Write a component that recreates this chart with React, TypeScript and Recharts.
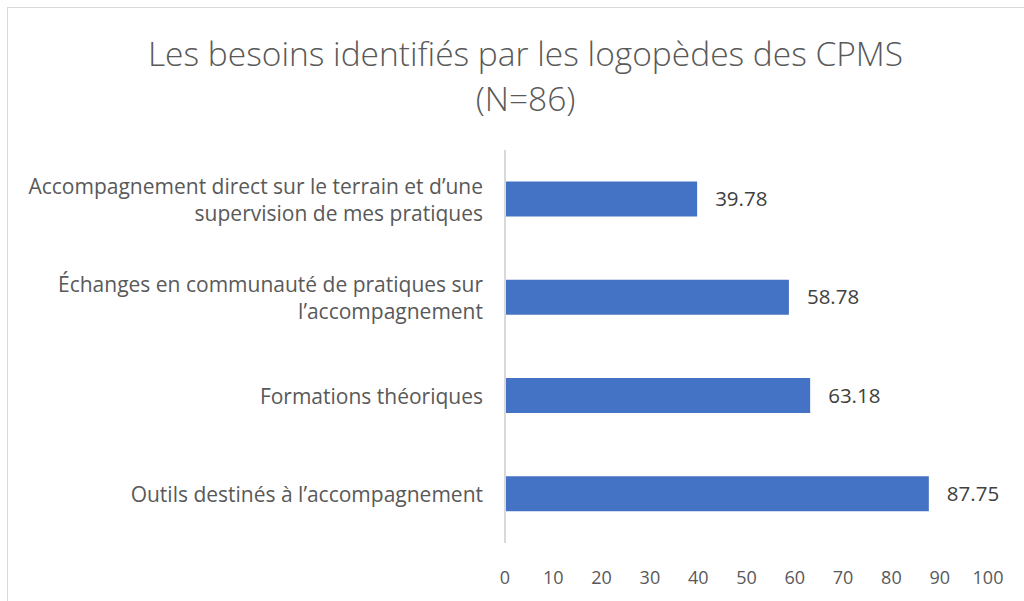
import React from "react";
import { BarChart, Bar, XAxis, YAxis, LabelList } from "recharts";

const categories = [
  "Accompagnement direct sur le terrain et d’une\nsupervision de mes pratiques",
  "Échanges en communauté de pratiques sur\nl’accompagnement",
  "Formations théoriques",
  "Outils destinés à l’accompagnement",
];
const values = [39.78, 58.78, 63.18, 87.75];
const xTicks = [0, 10, 20, 30, 40, 50, 60, 70, 80, 90, 100];

const data = categories.map((name, i) => ({ name, value: values[i] }));

const FONT = "'Open Sans', sans-serif";

const CategoryTick = (props: any) => {
  const { x, y, payload } = props;
  const lines = String(payload.value).split("\n");
  const lh = 27;
  const start = y - ((lines.length - 1) * lh) / 2;
  return (
    <text
      x={x}
      y={start}
      textAnchor="end"
      fill="#595959"
      fontSize={21}
      fontFamily={FONT}
      dominantBaseline="central"
    >
      {lines.map((l, i) => (
        <tspan key={i} x={x} y={start + i * lh}>
          {l}
        </tspan>
      ))}
    </text>
  );
};

const App = () => {
  return (
    <div
      style={{
        position: "absolute",
        left: 0,
        top: 0,
        width: 1024,
        height: 601,
        background: "#fff",
        overflow: "hidden",
        fontFamily: FONT,
      }}
    >
      <div
        style={{
          position: "absolute",
          left: 7,
          top: 7,
          width: 1030,
          height: 600,
          borderLeft: "1px solid #d9d9d9",
          borderTop: "1px solid #d9d9d9",
        }}
      />
      <div
        style={{
          position: "absolute",
          left: 0,
          top: 31,
          width: 1051,
          textAlign: "center",
          color: "#595959",
          fontSize: 33.5,
          fontWeight: 300,
          lineHeight: "45px",
        }}
      >
        Les besoins identifiés par les logopèdes des CPMS
        <br />
        (N=86)
      </div>
      <div style={{ position: "absolute", left: 0, top: 0 }}>
        <BarChart
          width={1024}
          height={601}
          data={data}
          layout="vertical"
          margin={{ top: 150, right: 36, bottom: 18, left: 0 }}
          barCategoryGap="32%"
        >
          <XAxis
            type="number"
            domain={[0, 100]}
            ticks={xTicks}
            interval={0}
            axisLine={false}
            tickLine={false}
            tickMargin={22}
            height={40}
            tick={{ fill: "#595959", fontSize: 18, fontFamily: FONT }}
          />
          <YAxis
            type="category"
            dataKey="name"
            width={505}
            axisLine={{ stroke: "#d9d9d9", strokeWidth: 2 }}
            tickLine={false}
            tickSize={0}
            tickMargin={22}
            interval={0}
            tick={<CategoryTick />}
          />
          <Bar dataKey="value" fill="#4472C4" isAnimationActive={false}>
            <LabelList
              dataKey="value"
              position="right"
              offset={18}
              fill="#404040"
              fontSize={20.5}
              fontFamily={FONT}
            />
          </Bar>
        </BarChart>
      </div>
    </div>
  );
};

export default App;
